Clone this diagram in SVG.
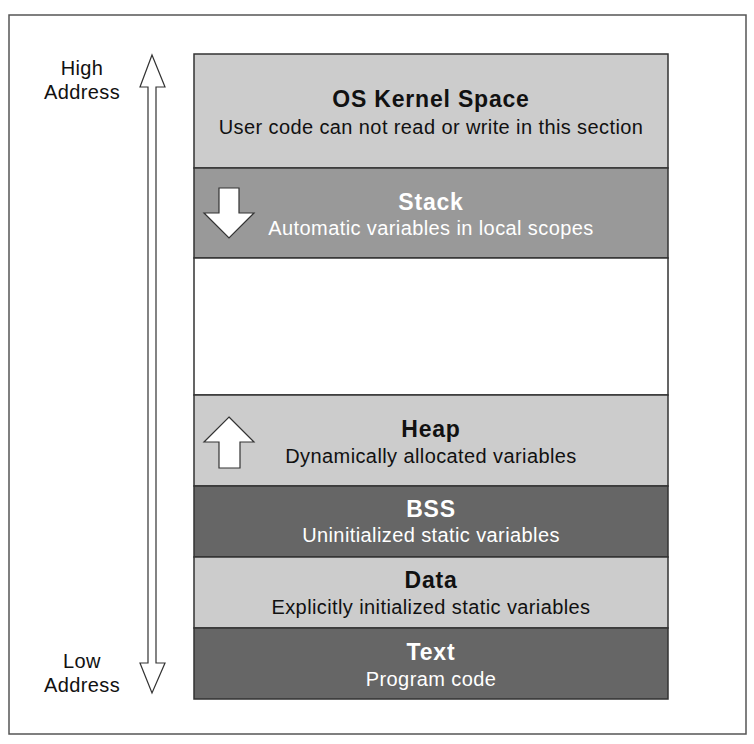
<svg xmlns="http://www.w3.org/2000/svg" width="754" height="744" viewBox="0 0 754 744">
<style>
.t{font-family:"Liberation Sans",Arial,sans-serif;font-weight:bold;font-size:23px;letter-spacing:0.8px;text-anchor:middle}
.s{font-family:"Liberation Sans",Arial,sans-serif;font-size:20px;letter-spacing:0.4px;text-anchor:middle}
.k{fill:#111}
.w{fill:#fff}
.blk{stroke:#333;stroke-width:1.5}
.arr{fill:#fff;stroke:#333;stroke-width:1.2}
</style>
<rect x="0" y="0" width="754" height="744" fill="#fff"/>
<rect x="9" y="15" width="737" height="719" fill="#fff" stroke="#555" stroke-width="1.5"/>
<g id="address-arrow">
<path class="arr" d="M152,55 L165,87 L156,87 L156,663 L165,663 L152,693 L140,663 L148,663 L148,87 L140,87 Z"/>
<text class="s k" x="82" y="75">High</text>
<text class="s k" x="82" y="99">Address</text>
<text class="s k" x="82" y="668">Low</text>
<text class="s k" x="82" y="692">Address</text>
</g>
<g id="kernel">
<rect class="blk" x="194" y="54" width="474" height="114" fill="#cccccc"/>
<text class="t k" x="431" y="107">OS Kernel Space</text>
<text class="s k" x="431" y="134">User code can not read or write in this section</text>
</g>
<g id="stack">
<rect class="blk" x="194" y="168" width="474" height="90" fill="#999999"/>
<path class="arr" d="M219,188 L239,188 L239,213 L254,213 L229,238 L204,213 L219,213 Z"/>
<text class="t w" x="431" y="210">Stack</text>
<text class="s w" x="431" y="235">Automatic variables in local scopes</text>
</g>
<g id="free">
<rect class="blk" x="194" y="258" width="474" height="137" fill="#ffffff"/>
</g>
<g id="heap">
<rect class="blk" x="194" y="395" width="474" height="91" fill="#cccccc"/>
<path class="arr" d="M229,417 L254,442 L240,442 L240,468 L219,468 L219,442 L204,442 Z"/>
<text class="t k" x="431" y="437">Heap</text>
<text class="s k" x="431" y="463">Dynamically allocated variables</text>
</g>
<g id="bss">
<rect class="blk" x="194" y="486" width="474" height="71" fill="#666666"/>
<text class="t w" x="431" y="517">BSS</text>
<text class="s w" x="431" y="542">Uninitialized static variables</text>
</g>
<g id="data">
<rect class="blk" x="194" y="557" width="474" height="71" fill="#cccccc"/>
<text class="t k" x="431" y="588">Data</text>
<text class="s k" x="431" y="614">Explicitly initialized static variables</text>
</g>
<g id="text">
<rect class="blk" x="194" y="628" width="474" height="71" fill="#666666"/>
<text class="t w" x="431" y="660">Text</text>
<text class="s w" x="431" y="686">Program code</text>
</g>
</svg>
